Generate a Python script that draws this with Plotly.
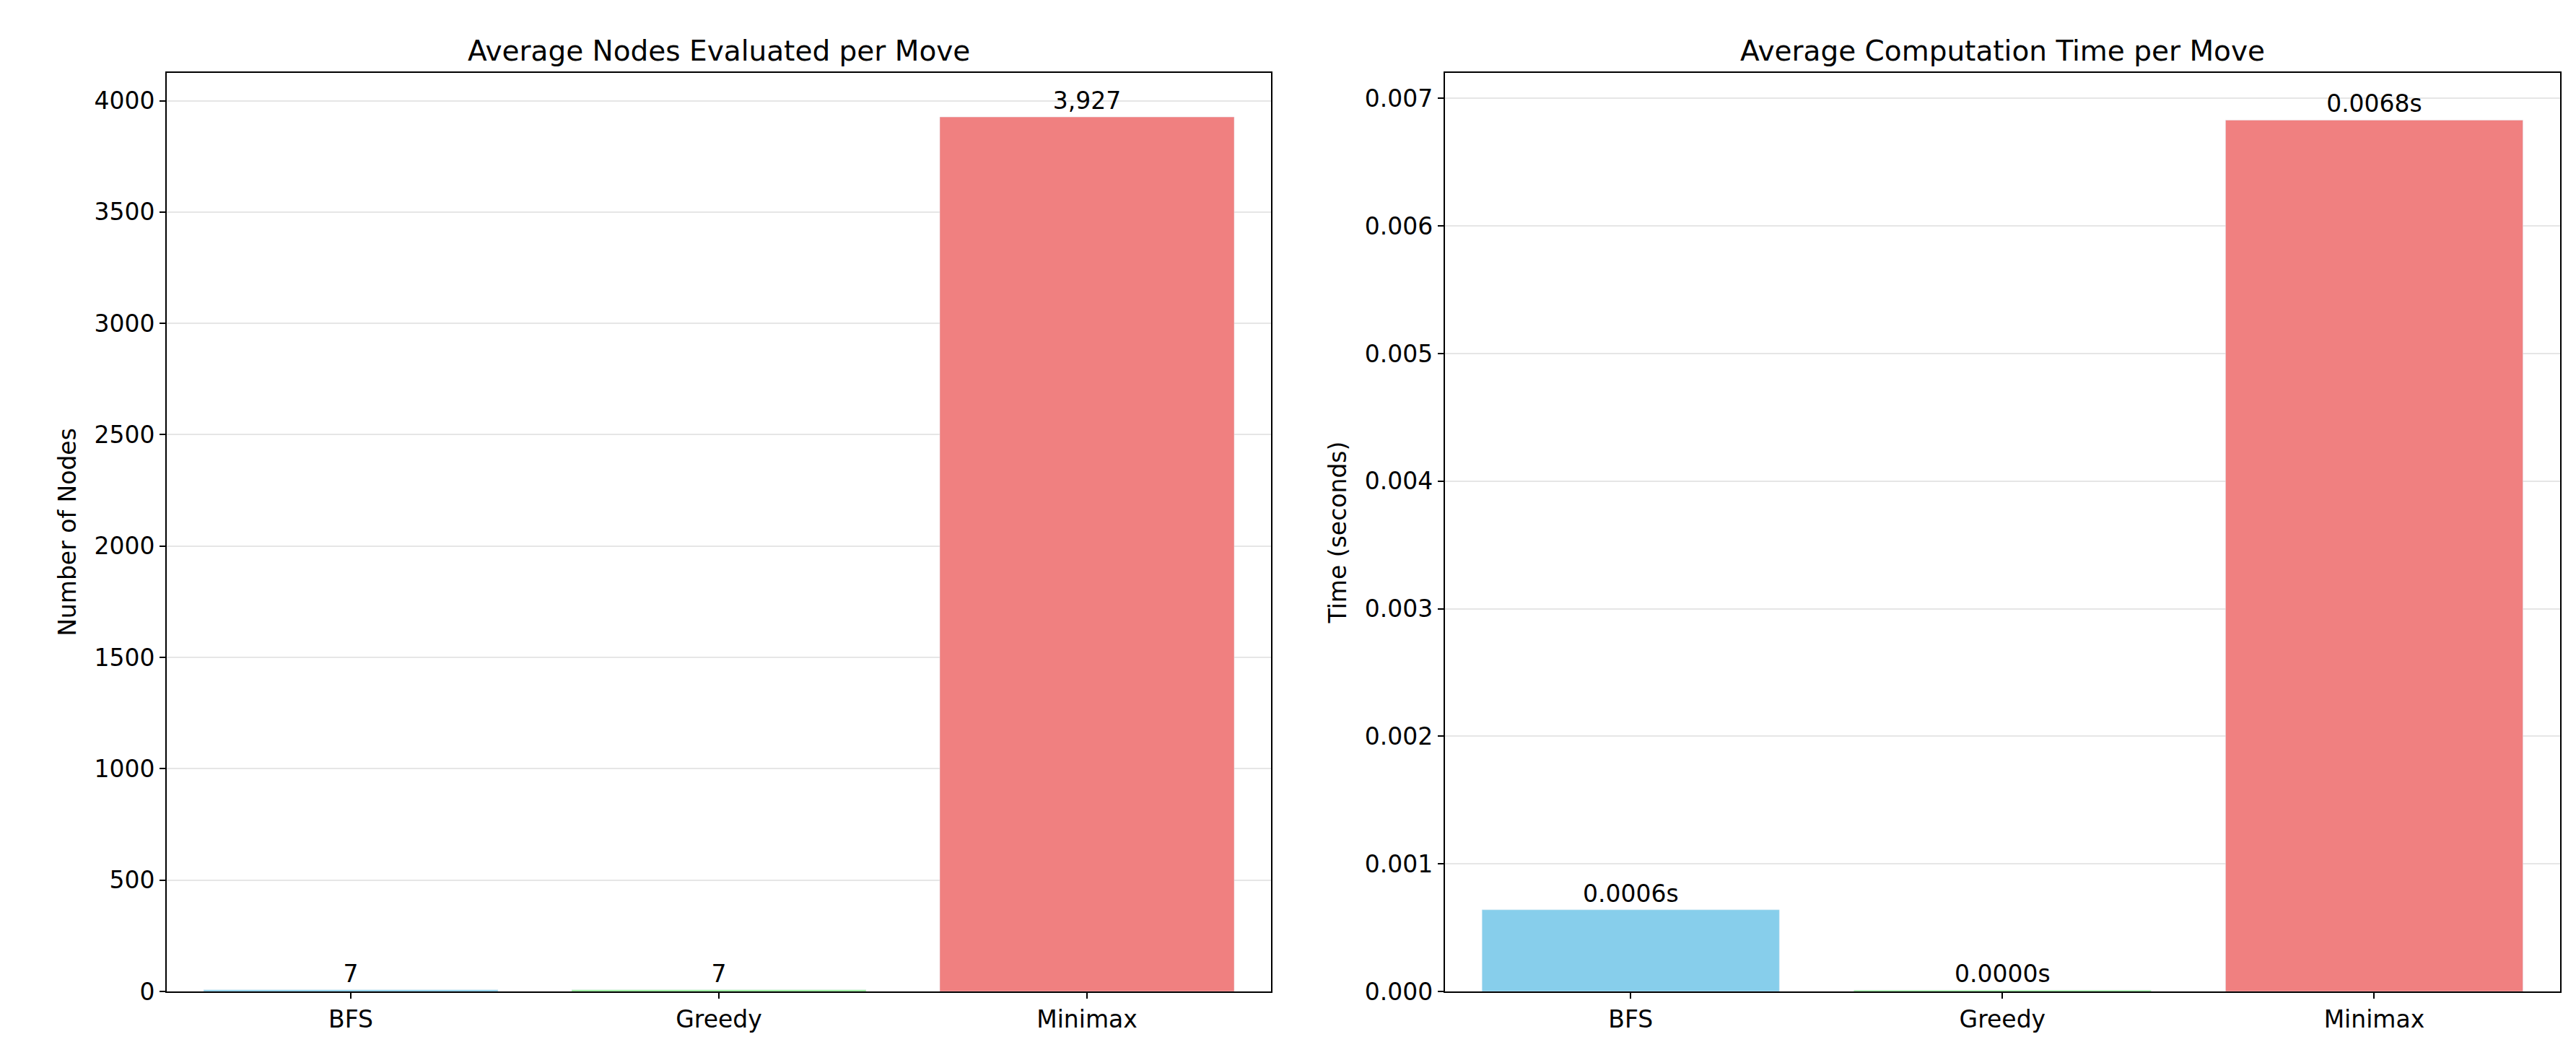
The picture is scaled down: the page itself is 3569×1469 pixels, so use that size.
import plotly.graph_objects as go
from plotly.subplots import make_subplots

algorithms = ["BFS", "Greedy", "Minimax"]
avg_nodes = [7, 7, 3927]
avg_time = [0.00064, 0.00001, 0.00683]
node_labels = ["7", "7", "3,927"]
time_labels = ["0.0006s", "0.0000s", "0.0068s"]
colors = ["#87CEEB", "#90EE90", "#F08080"]

fig = make_subplots(rows=1, cols=2,
                    subplot_titles=("Average Nodes Evaluated per Move",
                                    "Average Computation Time per Move"))

fig.add_trace(go.Bar(x=algorithms, y=avg_nodes, marker_color=colors, width=0.8,
                     text=node_labels, textposition="outside", cliponaxis=False,
                     textfont=dict(size=33, color="black")), row=1, col=1)
fig.add_trace(go.Bar(x=algorithms, y=avg_time, marker_color=colors, width=0.8,
                     text=time_labels, textposition="outside", cliponaxis=False,
                     textfont=dict(size=33, color="black")), row=1, col=2)

axis_style = dict(showline=True, linecolor="black", linewidth=2, mirror=True,
                  ticks="outside", ticklen=8, tickwidth=2, tickcolor="black",
                  tickfont=dict(size=33, color="black"))
fig.update_xaxes(**axis_style, showgrid=False)
fig.update_yaxes(**axis_style, showgrid=True, gridcolor="#e6e6e6", gridwidth=2, zeroline=False)
fig.update_xaxes(domain=[0, 0.4614], row=1, col=1)
fig.update_xaxes(domain=[0.534, 1], row=1, col=2)
fig.update_yaxes(range=[0, 4125], dtick=500, title_text="Number of Nodes",
                 title_font=dict(size=33, color="black"), row=1, col=1)
fig.update_yaxes(range=[0, 0.0072], dtick=0.001, tickformat=".3f", title_text="Time (seconds)",
                 title_font=dict(size=33, color="black"), row=1, col=2)

fig.layout.annotations[0].x = 0.4614 / 2
fig.layout.annotations[1].x = (0.534 + 1) / 2
for ann in fig.layout.annotations:
    ann.font = dict(size=39, color="black")
    ann.yshift = 6

fig.update_layout(width=3569, height=1469, showlegend=False,
                  plot_bgcolor="white", paper_bgcolor="white",
                  font=dict(family="DejaVu Sans", color="black"),
                  margin=dict(l=223, r=30, t=93, b=103))

fig.write_html("out.html")
